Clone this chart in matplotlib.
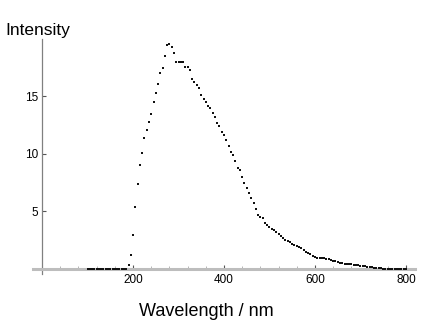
import numpy as np
import matplotlib.pyplot as plt
from matplotlib.ticker import MultipleLocator

# wavelength (nm) and intensity
wavelength = list(range(100, 805, 5))
intensity = (
    [0.0] * 18 +   # 100 - 185
    [0.35, 1.2, 2.95, 5.35, 7.4, 9.05, 10.1, 11.4, 12.1, 12.75,
     13.5, 14.5, 15.3, 16.05, 17.0, 17.5, 18.5, 19.5, 19.6, 19.3,
     18.75, 18.0, 18.0, 18.0, 18.0, 17.6, 17.6, 17.3, 16.5, 16.3,
     16.0, 15.7, 15.1, 14.8, 14.5, 14.2, 14.0, 13.6, 13.2, 12.7,
     12.4, 11.9, 11.65, 11.2, 10.7, 10.2, 9.9, 9.4, 8.75, 8.6,
     8.0, 7.5, 7.0, 6.6, 6.15, 5.7, 5.2, 4.7, 4.55, 4.4,
     4.0, 3.8, 3.65, 3.5, 3.35, 3.2, 3.0, 2.85, 2.7, 2.55,
     2.45, 2.3, 2.2, 2.1, 2.0, 1.9, 1.8, 1.65, 1.5, 1.4,
     1.25, 1.15, 1.0, 0.98, 0.95, 0.93, 0.9, 0.87, 0.85, 0.8,
     0.72, 0.65, 0.58, 0.5, 0.47, 0.45, 0.42, 0.4, 0.38, 0.35,
     0.33, 0.3, 0.28, 0.25, 0.22, 0.18, 0.15, 0.12, 0.1, 0.08,
     0.06, 0.04, 0.02] +
    [0.0] * 10     # 755 - 800
)
x_major = [200, 400, 600, 800]
y_major = [5, 10, 15]

plt.rcParams['font.family'] = ['Liberation Sans', 'DejaVu Sans']

fig = plt.figure(figsize=(4.32, 3.25), dpi=100)
ax = fig.add_axes([33 / 432, 1 - 274 / 325, 382 / 432, 235 / 325])

ax.plot(wavelength, intensity, 's', color='#111111', markersize=2.1,
        markeredgewidth=0, zorder=3)

ax.set_xlim(-20, 820)
ax.set_ylim(-0.45, 20)

for s in ['top', 'right']:
    ax.spines[s].set_visible(False)
ax.spines['left'].set_position(('data', 0))
ax.spines['bottom'].set_position(('data', 0))
ax.spines['bottom'].set_color('#bdbdbd')
ax.spines['bottom'].set_linewidth(2.2)
ax.spines['left'].set_color('#808080')
ax.spines['left'].set_linewidth(0.9)

ax.set_xticks(x_major)
ax.set_yticks(y_major)
ax.xaxis.set_minor_locator(MultipleLocator(40))
ax.tick_params(axis='x', which='major', direction='in', length=3, width=0.8,
               color='#555555', labelsize=8.5, pad=4)
ax.tick_params(axis='x', which='minor', direction='in', length=2, width=0.6,
               color='#aaaaaa')
ax.tick_params(axis='y', which='major', direction='in', length=3, width=0.8,
               color='#555555', labelsize=8.5, pad=3)

fig.text(5 / 432, 1 - 30 / 325, 'Intensity', fontsize=12.5,
         ha='left', va='center')
fig.text(206 / 432, 1 - 311 / 325, 'Wavelength / nm', fontsize=13,
         ha='center', va='center')

fig.savefig('out.png', dpi=100)
